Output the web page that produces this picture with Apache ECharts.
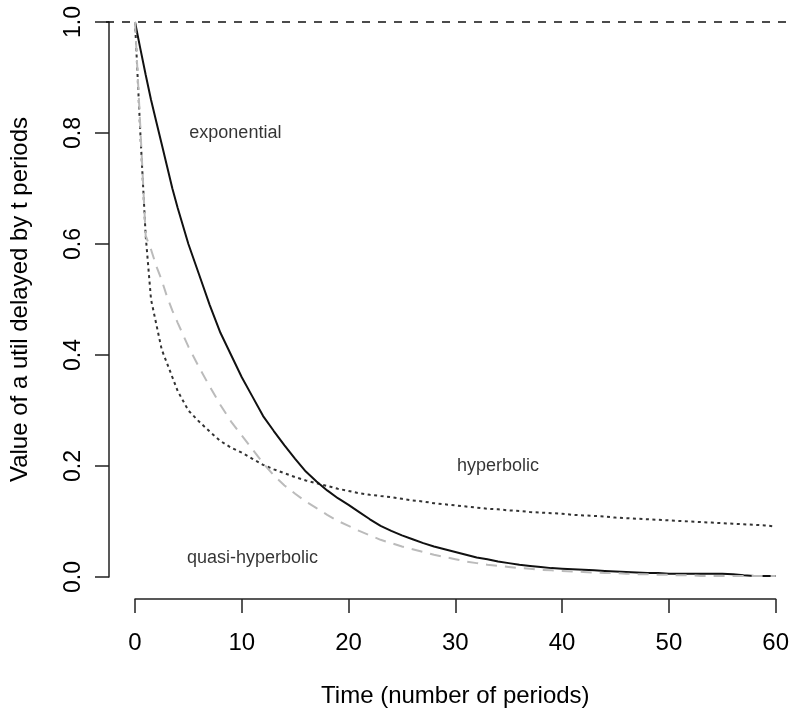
<!DOCTYPE html>
<html>
<head>
<meta charset="utf-8">
<script src="https://cdn.jsdelivr.net/npm/echarts@6/dist/echarts.min.js"></script>
<style>
html,body{margin:0;padding:0;background:#fff;}
#chart{width:792px;height:713px;}
</style>
</head>
<body>
<div id="chart"></div>
<script>
// ---- data ----
const times = [0,0.5,1,1.5,2,2.5,3,3.5,4,
  5,6,7,8,9,10,11,12,13,14,15,16,17,18,19,20,21,22,23,24,25,26,27,28,29,30,
  31,32,33,34,35,36,37,38,39,40,41,42,43,44,45,46,47,48,49,50,51,52,53,54,55,56,57,58,59,60];

const exponential = [1.000,0.952,0.905,0.860,0.820,0.780,0.740,0.700,0.665,
  0.600,0.545,0.490,0.440,0.400,0.360,0.325,0.290,0.263,0.237,0.213,0.190,0.172,0.156,0.142,0.130,
  0.117,0.104,0.092,0.083,0.075,0.068,0.061,0.055,0.050,0.045,
  0.040,0.035,0.032,0.028,0.025,0.022,0.020,0.018,0.016,0.015,
  0.014,0.013,0.012,0.011,0.010,0.009,0.008,0.007,0.007,0.006,
  0.006,0.006,0.006,0.006,0.006,0.005,0.003,0.002,0.002,0.002];

const hyperbolic = [1.000,0.800,0.615,0.500,0.455,0.410,0.385,0.360,0.335,
  0.300,0.280,0.262,0.245,0.233,0.224,0.213,0.202,0.194,0.187,0.180,0.174,0.169,0.164,0.159,0.155,
  0.151,0.148,0.146,0.144,0.141,0.138,0.136,0.133,0.131,0.129,
  0.127,0.125,0.123,0.122,0.120,0.119,0.117,0.116,0.115,0.114,
  0.112,0.111,0.110,0.109,0.107,0.106,0.105,0.104,0.103,0.102,
  0.101,0.100,0.099,0.098,0.097,0.096,0.095,0.094,0.093,0.091];

const quasiHyperbolic = [1.000,0.810,0.615,0.590,0.560,0.535,0.505,0.480,0.458,
  0.415,0.378,0.343,0.310,0.280,0.255,0.230,0.205,0.183,0.165,0.150,0.136,0.124,0.112,0.101,0.092,
  0.083,0.075,0.067,0.061,0.055,0.050,0.045,0.040,0.036,0.032,
  0.028,0.025,0.022,0.020,0.018,0.016,0.015,0.013,0.012,0.011,
  0.010,0.009,0.008,0.007,0.007,0.006,0.005,0.005,0.004,0.004,
  0.003,0.003,0.002,0.002,0.002,0.002,0.002,0.002,0.002,0.002];

const referenceLevel = 1.0;

const annotationTexts = ['exponential', 'hyperbolic', 'quasi-hyperbolic'];
const annotationTimes = [9.4, 34, 11];
const annotationValues = [0.80, 0.20, 0.035];

const xTitle = 'Time (number of periods)';
const yTitle = 'Value of a util delayed by t periods';

// ---- chart ----
const FONT = '"Liberation Sans", Arial, Helvetica, sans-serif';
const INK = '#000';
const pairs = (ys) => times.map((t, i) => [t, ys[i]]);

const chart = echarts.init(document.getElementById('chart'), null, {renderer: 'canvas'});

const option = {
  animation: false,
  backgroundColor: '#fff',
  textStyle: {fontFamily: FONT, color: INK},
  grid: [
    {left: 132, right: 15, top: 22, bottom: 133, containLabel: false},
    {left: 106, width: 697, top: 22, bottom: 133, containLabel: false}
  ],
  xAxis: [
    {
      gridIndex: 0, type: 'value', min: 0, max: 60, interval: 10, offset: 22,
      axisLine: {show: true, onZero: false, lineStyle: {color: '#222', width: 1.5}},
      axisTick: {show: true, length: 14, lineStyle: {color: '#222', width: 1.5}},
      axisLabel: {fontSize: 24, color: INK, fontFamily: FONT, margin: 32},
      splitLine: {show: false},
      name: xTitle, nameLocation: 'middle', nameGap: 85,
      nameTextStyle: {fontSize: 24, color: INK, fontFamily: FONT}
    },
    {
      gridIndex: 1, type: 'value', min: -2.4, max: 62.4, show: false
    }
  ],
  yAxis: [
    {
      gridIndex: 0, type: 'value', min: 0, max: 1, interval: 0.2, offset: 26,
      axisLine: {show: true, onZero: false, lineStyle: {color: '#222', width: 1.5}},
      axisTick: {show: true, length: 14, lineStyle: {color: '#222', width: 1.5}},
      axisLabel: {fontSize: 23, color: INK, fontFamily: FONT, rotate: 90, margin: 24,
        formatter: (v) => v.toFixed(1)},
      splitLine: {show: false},
      name: yTitle, nameLocation: 'middle', nameGap: 77,
      nameTextStyle: {fontSize: 24, color: INK, fontFamily: FONT}
    },
    {
      gridIndex: 1, type: 'value', min: 0, max: 1, show: false
    }
  ],
  series: [
    {
      name: 'reference', type: 'line', xAxisIndex: 1, yAxisIndex: 1, data: [],
      markLine: {
        silent: true, symbol: ['none', 'none'], label: {show: false},
        lineStyle: {color: '#111', width: 1.6, type: [8, 8]},
        data: [{yAxis: referenceLevel}]
      }
    },
    {
      name: 'hyperbolic', type: 'line', data: pairs(hyperbolic), showSymbol: false, clip: false,
      lineStyle: {color: '#333', width: 2, type: [3, 3.5]}
    },
    {
      name: 'exponential', type: 'line', data: pairs(exponential), showSymbol: false, clip: false,
      lineStyle: {color: '#111', width: 2, type: 'solid'}
    },
    {
      name: 'quasi-hyperbolic', type: 'line', data: pairs(quasiHyperbolic), showSymbol: false, clip: false,
      lineStyle: {color: '#bbbbbb', width: 2, type: [11, 8]}
    },
    {
      name: 'labels', type: 'scatter', symbolSize: 1, silent: true,
      itemStyle: {color: 'rgba(0,0,0,0)'},
      data: annotationTexts.map((s, i) => ({name: s, value: [annotationTimes[i], annotationValues[i]]})),
      label: {
        show: true, position: 'inside', formatter: (p) => p.name,
        fontSize: 18, color: '#000', textBorderWidth: 0, fontFamily: FONT,
        align: 'center', verticalAlign: 'middle'
      },
      labelLayout: {hideOverlap: false}
    }
  ]
};
chart.setOption(option);
</script>
</body>
</html>
